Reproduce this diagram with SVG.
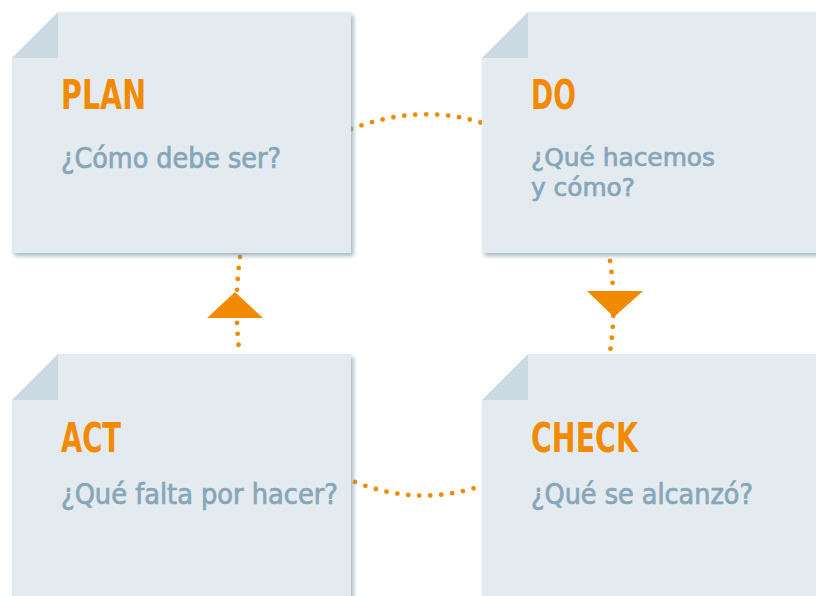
<svg xmlns="http://www.w3.org/2000/svg" width="816" height="596" viewBox="0 0 816 596">
<defs>
<filter id="sh" x="-10%" y="-10%" width="125%" height="125%">
<feDropShadow dx="2.5" dy="3" stdDeviation="2" flood-color="#7e9aae" flood-opacity="0.7"/>
</filter>
<style>
.card{fill:#e3ebf0;filter:url(#sh)}
.fold{fill:#cbd9e3}
.title{font-family:"DejaVu Sans Condensed","DejaVu Sans",sans-serif;font-weight:bold;font-size:41px;fill:#f28a00}
.sub{font-family:"DejaVu Sans Condensed","DejaVu Sans",sans-serif;font-size:28px;fill:#88a6b7;stroke:#88a6b7;stroke-width:0.7}
.sub2{font-size:25.5px}
.dot{fill:none;stroke:#f28a00;stroke-width:4.8;stroke-linecap:round;stroke-dasharray:0 11}
.tri{fill:#f28a00}
</style>
</defs>
<rect width="816" height="596" fill="#ffffff"/>
<g id="connectors">
<path class="dot" d="M351 129 Q420 103 482 123"/>
<path class="dot" d="M355 482 Q418 507 481 486"/>
<path class="dot" d="M240 257 Q234 302 239 350"/>
<path class="dot" d="M610 261 Q617 306 610 352"/>
<polygon class="tri" points="207,318 263,318 235,292"/>
<polygon class="tri" points="587,291 643,291 614,317"/>
</g>
<g id="plan">
<polygon class="card" points="58,12 351,12 351,253 12,253 12,58"/>
<polygon class="fold" points="12,58 58,12 58,58"/>
<text class="title" x="61" y="109" textLength="85" lengthAdjust="spacingAndGlyphs">PLAN</text>
<text class="sub" x="61" y="168" textLength="220" lengthAdjust="spacingAndGlyphs">¿Cómo debe ser?</text>
</g>
<g id="do">
<polygon class="card" points="528,12 830,12 830,253 482,253 482,58"/>
<polygon class="fold" points="482,58 528,12 528,58"/>
<text class="title" x="531" y="109" textLength="45" lengthAdjust="spacingAndGlyphs">DO</text>
<text class="sub sub2"><tspan x="531" y="166" textLength="184" lengthAdjust="spacingAndGlyphs">¿Qué hacemos</tspan><tspan x="531" y="196" textLength="104" lengthAdjust="spacingAndGlyphs">y cómo?</tspan></text>
</g>
<g id="act">
<polygon class="card" points="58,354 351,354 351,610 12,610 12,400"/>
<polygon class="fold" points="12,400 58,354 58,400"/>
<text class="title" x="61" y="452" textLength="60" lengthAdjust="spacingAndGlyphs">ACT</text>
<text class="sub" x="61" y="504" textLength="277" lengthAdjust="spacingAndGlyphs">¿Qué falta por hacer?</text>
</g>
<g id="check">
<polygon class="card" points="528,354 830,354 830,610 482,610 482,400"/>
<polygon class="fold" points="482,400 528,354 528,400"/>
<text class="title" x="531" y="452" textLength="107" lengthAdjust="spacingAndGlyphs">CHECK</text>
<text class="sub" x="531" y="504" textLength="222" lengthAdjust="spacingAndGlyphs">¿Qué se alcanzó?</text>
</g>
</svg>
